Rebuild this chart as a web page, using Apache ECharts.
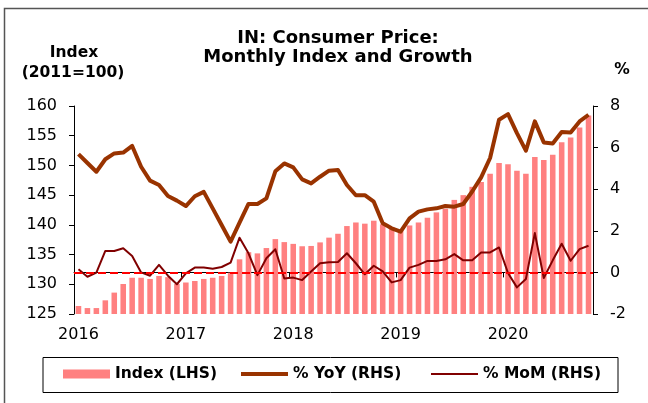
<!DOCTYPE html>
<html>
<head>
<meta charset="utf-8">
<title>IN: Consumer Price</title>
<script src="https://cdn.jsdelivr.net/npm/echarts@6/dist/echarts.min.js"></script>
<style>
  html, body { margin: 0; padding: 0; background: #fff; }
  #chart { width: 648px; height: 403px; }
</style>
</head>
<body>
<div id="chart"></div>
<script>
// year labels on the x axis, one category per month Jan 2016 .. Oct 2020
const years = ['2016', '2017', '2018', '2019', '2020']
const months = []
years.forEach(y => {
  for (let m = 1; m <= 12; m++) months.push(y + '-' + String(m).padStart(2, '0'))
})
months.length = 58

// CPI index (LHS)
const indexValues = [
  126.35, 126.0, 126.0, 127.3, 128.6, 130.05, 131.1, 131.1, 130.9, 131.4, 131.2, 130.05,
  130.3, 130.55, 130.9, 131.1, 131.4, 131.96, 134.2, 135.4, 135.2, 136.1, 137.6, 137.1,
  136.8, 136.4, 136.45, 137.05, 137.85, 138.5, 139.8, 140.4, 140.2, 140.7, 140.1, 139.6,
  139.1, 139.9, 140.4, 141.2, 142.1, 142.7, 144.2, 145.0, 146.4, 147.2, 148.6, 150.4,
  150.2, 149.1, 148.6, 151.4, 150.9, 151.8, 153.9, 154.7, 156.4, 158.4
]

// % YoY (RHS)
const yoyValues = [
  5.69, 5.26, 4.84, 5.44, 5.72, 5.76, 6.08, 5.08, 4.41, 4.20, 3.67, 3.45,
  3.19, 3.66, 3.87, 3.08, 2.28, 1.48, 2.39, 3.29, 3.29, 3.56, 4.86, 5.24,
  5.05, 4.47, 4.28, 4.60, 4.89, 4.92, 4.20, 3.71, 3.71, 3.40, 2.36, 2.12,
  1.96, 2.60, 2.92, 3.03, 3.08, 3.19, 3.16, 3.29, 3.89, 4.57, 5.50, 7.34,
  7.61, 6.70, 5.85, 7.26, 6.25, 6.20, 6.75, 6.73, 7.26, 7.58
]

// % MoM (RHS)
const momValues = [
  0.15, -0.21, -0.01, 1.03, 1.03, 1.16, 0.79, 0.0, -0.16, 0.36, -0.16, -0.57,
  -0.05, 0.23, 0.24, 0.18, 0.26, 0.47, 1.67, 0.92, -0.13, 0.68, 1.11, -0.29,
  -0.25, -0.37, 0.04, 0.44, 0.49, 0.5, 0.92, 0.44, -0.09, 0.32, 0.05, -0.48,
  -0.37, 0.23, 0.36, 0.55, 0.55, 0.63, 0.88, 0.58, 0.58, 0.96, 0.96, 1.2,
  -0.03, -0.72, -0.32, 1.89, -0.27, 0.58, 1.38, 0.56, 1.12, 1.28
]

const FONT = 'DejaVu Sans'
const YOY_COLOR = '#993300'
const MOM_COLOR = '#800000'
const chart = echarts.init(document.getElementById('chart'), null, { renderer: 'canvas' })

const axisLine = { show: true, lineStyle: { color: '#000', width: 1 } }
const axisTick = { show: true, length: 5, lineStyle: { color: '#000' } }
const labelStyle = { color: '#000', fontFamily: FONT, fontSize: 16 }

// one legend per entry so each sits where the reference puts it
const legendBase = {
  top: 366,
  padding: 0,
  itemWidth: 47,
  itemHeight: 9,
  textStyle: { color: '#000', fontFamily: FONT, fontWeight: 'bold', fontSize: 15.5 }
}

const option = {
  backgroundColor: '#fff',
  animation: false,
  grid: { left: 74, right: 55, top: 106, bottom: 89, containLabel: false },
  graphic: [
    // outer frame (left + top edges)
    { type: 'polyline', shape: { points: [[4.5, 403], [4.5, 8.5], [648, 8.5]] },
      style: { stroke: '#555', lineWidth: 1.5, fill: null } },
    { type: 'text', x: 338, y: 38, style: { text: 'IN: Consumer Price:', font: 'bold 18px "DejaVu Sans"', fill: '#000', textAlign: 'center', textVerticalAlign: 'middle' } },
    { type: 'text', x: 338, y: 57, style: { text: 'Monthly Index and Growth', font: 'bold 18px "DejaVu Sans"', fill: '#000', textAlign: 'center', textVerticalAlign: 'middle' } },
    { type: 'text', x: 74, y: 53, style: { text: 'Index', font: 'bold 15.5px "DejaVu Sans"', fill: '#000', textAlign: 'center', textVerticalAlign: 'middle' } },
    { type: 'text', x: 73, y: 73, style: { text: '(2011=100)', font: 'bold 15.5px "DejaVu Sans"', fill: '#000', textAlign: 'center', textVerticalAlign: 'middle' } },
    { type: 'text', x: 622, y: 70, style: { text: '%', font: 'bold 15.5px "DejaVu Sans"', fill: '#000', textAlign: 'center', textVerticalAlign: 'middle' } },
    // legend box
    { type: 'rect', shape: { x: 43, y: 357.5, width: 575, height: 35 },
      style: { stroke: '#000', lineWidth: 1, fill: null } }
  ],
  legend: [
    Object.assign({ left: 63, data: [{ name: 'Index (LHS)', icon: 'rect' }] }, legendBase),
    Object.assign({ left: 239, data: [{ name: '% YoY (RHS)', itemStyle: { opacity: 0 }, lineStyle: { width: 4, color: YOY_COLOR } }] }, legendBase),
    Object.assign({ left: 430, data: [{ name: '% MoM (RHS)', itemStyle: { opacity: 0 }, lineStyle: { width: 2, color: MOM_COLOR } }] }, legendBase)
  ],
  xAxis: {
    type: 'category',
    data: months,
    boundaryGap: true,
    axisLine: axisLine,
    axisTick: { show: true, length: 5, interval: 11, lineStyle: { color: '#000' } },
    axisLabel: Object.assign({ interval: 11, margin: 13, formatter: v => v.slice(0, 4) }, labelStyle),
    splitLine: { show: false }
  },
  yAxis: [
    {
      type: 'value',
      min: 125, max: 160, interval: 5,
      axisLine: axisLine,
      axisTick: axisTick,
      axisLabel: Object.assign({ margin: 17 }, labelStyle),
      splitLine: { show: false }
    },
    {
      type: 'value',
      position: 'right',
      min: -2, max: 8, interval: 2,
      axisLine: axisLine,
      axisTick: axisTick,
      axisLabel: Object.assign({ margin: 17 }, labelStyle),
      splitLine: { show: false }
    }
  ],
  series: [
    {
      name: 'Index (LHS)',
      type: 'bar',
      yAxisIndex: 0,
      data: indexValues,
      barCategoryGap: '38%',
      itemStyle: { color: '#ff8080' }
    },
    {
      name: '% YoY (RHS)',
      type: 'line',
      yAxisIndex: 1,
      data: yoyValues,
      symbol: 'none',
      itemStyle: { color: YOY_COLOR },
      lineStyle: { color: YOY_COLOR, width: 4, join: 'round' },
      z: 4
    },
    {
      name: '% MoM (RHS)',
      type: 'line',
      yAxisIndex: 1,
      data: momValues,
      symbol: 'none',
      itemStyle: { color: MOM_COLOR },
      lineStyle: { color: MOM_COLOR, width: 2, join: 'round' },
      z: 3,
      markLine: {
        silent: true,
        symbol: 'none',
        label: { show: false },
        lineStyle: { color: '#ff0000', type: [8, 4], width: 2 },
        data: [{ yAxis: 0 }]
      }
    }
  ]
}

chart.setOption(option)
</script>
</body>
</html>
